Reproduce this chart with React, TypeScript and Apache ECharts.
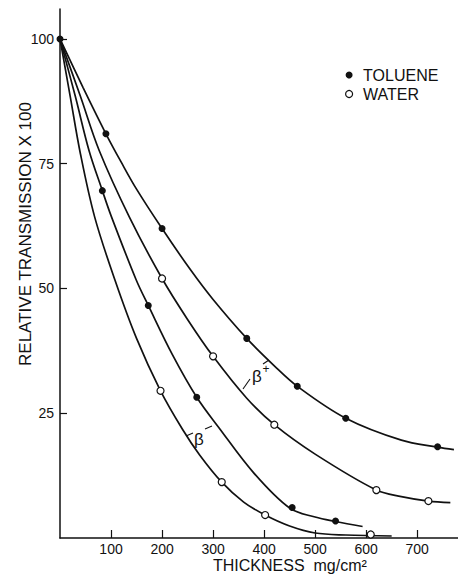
import React, { useEffect, useRef } from "react";
import * as echarts from "echarts";

// tick values
const xTickValues = [100, 200, 300, 400, 500, 600, 700];
const yTickValues = [25, 50, 75, 100];

// measured points [thickness mg/cm2, relative transmission x100]
const tolueneBetaPlusPoints = [[0, 100], [90, 81], [200, 62], [366, 40], [465, 30.4], [560, 24], [740, 18.3]];
const waterBetaPlusPoints = [[200, 52], [300, 36.4], [420, 22.7], [620, 9.6], [722, 7.4]];
const tolueneBetaMinusPoints = [[83, 69.6], [173, 46.6], [268, 28.2], [455, 6.1], [540, 3.4]];
const waterBetaMinusPoints = [[197, 29.5], [317, 11.2], [402, 4.6], [609, 0.7]];

// drawn (fitted) curves
const tolueneBetaPlusCurve = [[0, 100], [45, 90.3], [90, 81], [120, 75.3], [150, 69.9], [200, 62], [254, 54], [300, 47.8], [366, 40], [420, 34.5], [465, 30.4], [560, 24], [669, 19.6], [740, 18.2], [772, 17.7]];
const waterBetaPlusCurve = [[0, 100], [40, 88.5], [77, 77.6], [136, 64.3], [200, 52], [250, 43.8], [300, 36.4], [366, 28], [420, 22.7], [500, 16.8], [620, 9.6], [669, 8.3], [722, 7.4], [765, 7.1]];
const tolueneBetaMinusCurve = [[0, 100], [30, 88.5], [57, 77.6], [83, 69.6], [100, 64.6], [149, 51.8], [173, 46.6], [220, 36.8], [268, 28.2], [310, 22.3], [380, 13], [450, 6], [500, 4.2], [540, 3.3], [593, 2.3]];
const waterBetaMinusCurve = [[0, 100], [20, 88.5], [40, 77], [68, 64.3], [108, 51.6], [150, 40], [197, 29.5], [240, 21.8], [274, 16.6], [317, 11.2], [360, 7.2], [402, 4.6], [450, 2.4], [500, 1.0], [560, 0.6], [650, 0.4]];

const FONT = "'Liberation Sans', Arial, sans-serif";
const INK = "#111";

export default function App() {
  const ref = useRef<HTMLDivElement>(null);
  useEffect(() => {
    if (!ref.current) return;
    const chart = echarts.init(ref.current, undefined, { renderer: "svg" });
    const curve = (name: string, data: number[][]) => ({
      type: "line",
      name,
      data,
      smooth: 0.35,
      showSymbol: false,
      symbol: "none",
      lineStyle: { color: INK, width: 1.7 },
      z: 2,
      silent: true,
    });
    const filled = { color: INK, opacity: 1 };
    const open = { color: "#fff", borderColor: INK, borderWidth: 1.2, opacity: 1 };
    const pts = (name: string, data: number[][], style: any) => ({
      type: "scatter",
      name,
      data,
      symbol: "circle",
      symbolSize: 7,
      itemStyle: style,
      z: 3,
    });
    chart.setOption({
      animation: false,
      backgroundColor: "#fff",
      textStyle: { fontFamily: FONT },
      grid: { left: 60, right: 0, top: 9, bottom: 37, containLabel: false },
      legend: {
        orient: "vertical",
        left: 340,
        top: 62,
        itemWidth: 14,
        itemHeight: 7,
        itemGap: 3,
        textStyle: { fontFamily: FONT, fontSize: 16, color: INK, padding: [0, 0, 0, 2] },
        data: [
          { name: "TOLUENE", icon: "circle", itemStyle: { color: INK, opacity: 1 } },
          { name: "WATER", icon: "circle", itemStyle: { color: "#fff", borderColor: INK, borderWidth: 1.2, opacity: 1 } },
        ],
      },
      xAxis: {
        type: "value",
        min: 0,
        max: 780,
        interval: 100,
        axisLine: { show: true, onZero: false, lineStyle: { color: INK, width: 1.5 } },
        axisTick: { show: true, inside: true, length: 8, customValues: xTickValues, lineStyle: { color: INK, width: 1.2 } },
        axisLabel: { margin: 4, fontSize: 14, color: INK, fontFamily: FONT, customValues: xTickValues },
        splitLine: { show: false },
      },
      yAxis: {
        type: "value",
        min: 0,
        max: 106,
        interval: 25,
        axisLine: { show: true, onZero: false, lineStyle: { color: INK, width: 1.5 } },
        axisTick: { show: true, inside: true, length: 7, customValues: yTickValues, lineStyle: { color: INK, width: 1.2 } },
        axisLabel: { margin: 6, fontSize: 14, color: INK, fontFamily: FONT, customValues: yTickValues },
        splitLine: { show: false },
      },
      graphic: [
        {
          type: "text",
          x: 25,
          y: 234,
          rotation: Math.PI / 2,
          style: { text: "RELATIVE TRANSMISSION X 100", fontSize: 17, fontFamily: FONT, fill: INK, align: "center", verticalAlign: "middle" },
        },
        {
          type: "text",
          x: 213,
          y: 565,
          style: { text: "THICKNESS  mg/cm²", fontSize: 16, fontFamily: FONT, fill: INK, align: "left", verticalAlign: "middle" },
        },
        { type: "text", x: 257, y: 376, style: { text: "β", fontSize: 17, fontFamily: FONT, fill: INK, align: "center", verticalAlign: "middle" } },
        { type: "text", x: 266, y: 369, style: { text: "+", fontSize: 12, fontFamily: FONT, fill: INK, align: "center", verticalAlign: "middle" } },
        { type: "line", shape: { x1: 243, y1: 389, x2: 250, y2: 379 }, style: { stroke: INK, lineWidth: 1.1 } },
        { type: "line", shape: { x1: 263, y1: 364, x2: 269, y2: 360 }, style: { stroke: INK, lineWidth: 1.1 } },
        { type: "text", x: 199, y: 439, style: { text: "β", fontSize: 17, fontFamily: FONT, fill: INK, align: "center", verticalAlign: "middle" } },
        { type: "line", shape: { x1: 186, y1: 436, x2: 193, y2: 433 }, style: { stroke: INK, lineWidth: 1.1 } },
        { type: "line", shape: { x1: 205, y1: 429, x2: 212, y2: 426 }, style: { stroke: INK, lineWidth: 1.1 } },
      ],
      series: [
        curve("toluene β+ curve", tolueneBetaPlusCurve),
        curve("water β+ curve", waterBetaPlusCurve),
        curve("toluene β- curve", tolueneBetaMinusCurve),
        curve("water β- curve", waterBetaMinusCurve),
        pts("TOLUENE", tolueneBetaPlusPoints, filled),
        pts("TOLUENE", tolueneBetaMinusPoints, filled),
        pts("WATER", waterBetaPlusPoints, open),
        pts("WATER", waterBetaMinusPoints, open),
      ],
    });
    return () => chart.dispose();
  }, []);
  return (
    <div
      ref={ref}
      style={{ position: "fixed", left: 0, top: 0, width: 458, height: 575, background: "#fff" }}
    />
  );
}
